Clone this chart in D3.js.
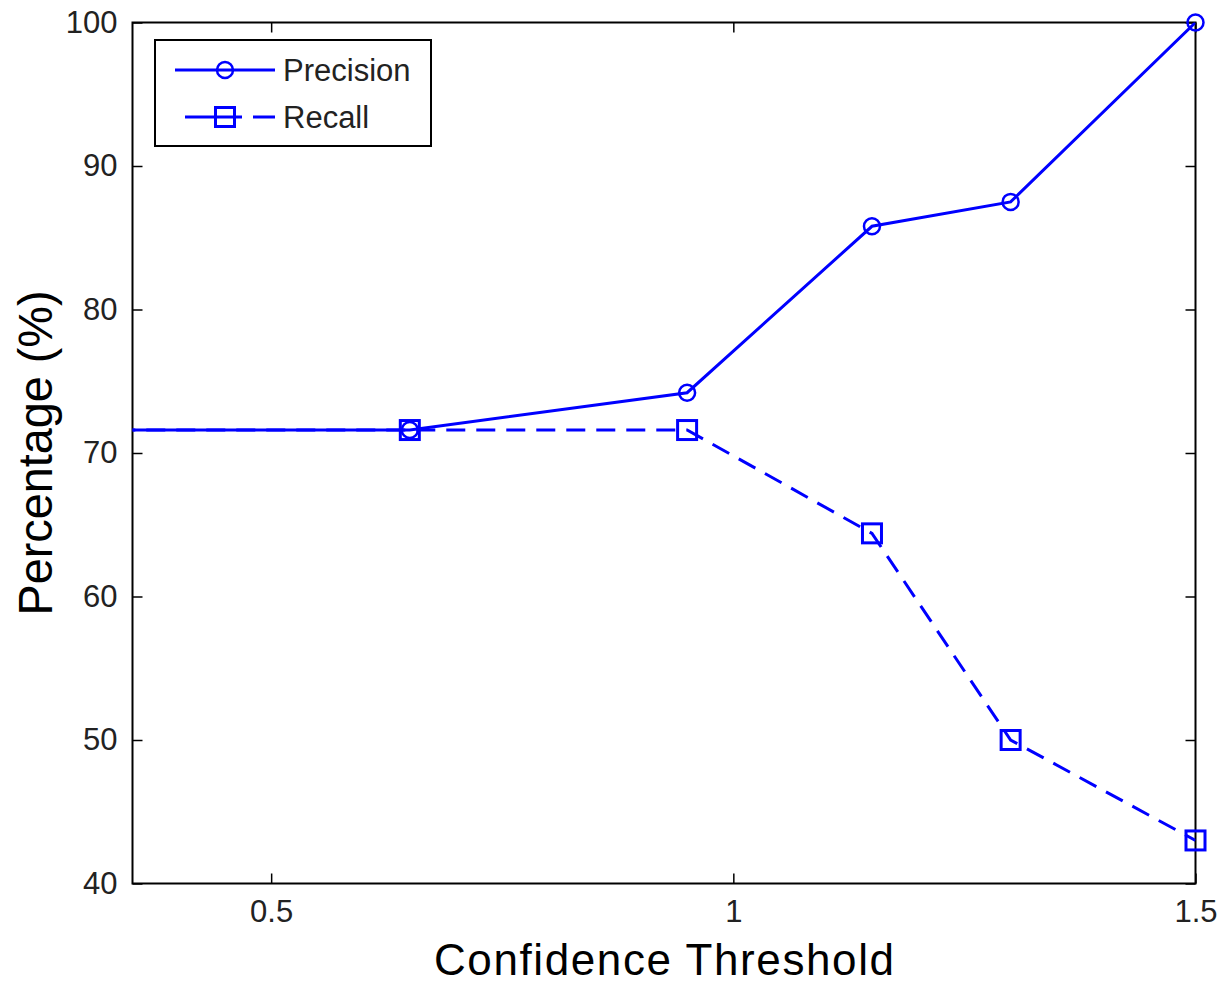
<!DOCTYPE html>
<html>
<head>
<meta charset="utf-8">
<script src="https://cdn.jsdelivr.net/npm/d3@7"></script>
<style>
  body { margin: 0; background: #fff; }
  text { font-family: "Liberation Sans", Arial, sans-serif; }
</style>
</head>
<body>
<div id="chart"></div>
<script>
// thresholds (first one lies left of the visible axis range, line is clipped)
var thresholds = [0.3, 0.65, 0.95, 1.15, 1.3, 1.5];
var precision = [71.6, 71.6, 74.2, 85.8, 87.5, 100];
var recall = [71.6, 71.6, 71.6, 64.4, 50.0, 43.0];
var xTicks = [0.5, 1, 1.5];
var yTicks = [40, 50, 60, 70, 80, 90, 100];

var W = 1218, H = 984,
    margin = {top: 22.5, right: 22.5, bottom: 100.5, left: 132.5},
    width = W - margin.left - margin.right,
    height = H - margin.top - margin.bottom;

var svg = d3.select("#chart").append("svg")
    .attr("width", W)
    .attr("height", H);

var x = d3.scaleLinear().domain([0.35, 1.5]).range([0, width]);
var y = d3.scaleLinear().domain([40, 100]).range([height, 0]);

var g = svg.append("g")
    .attr("transform", "translate(" + margin.left + "," + margin.top + ")");

svg.append("defs").append("clipPath").attr("id", "plotclip")
  .append("rect").attr("width", width).attr("height", height);

// axes: ticks inward on all four sides
var tickLen = 10;
g.append("g")
    .attr("transform", "translate(0," + height + ")")
    .call(d3.axisBottom(x).tickValues(xTicks).tickSizeInner(-tickLen).tickSizeOuter(0).tickPadding(16).tickFormat(d3.format("")));
g.append("g")
    .call(d3.axisTop(x).tickValues(xTicks).tickSizeInner(-tickLen).tickSizeOuter(0).tickFormat(""));
g.append("g")
    .call(d3.axisLeft(y).tickValues(yTicks).tickSizeInner(-tickLen).tickSizeOuter(0).tickPadding(15));
g.append("g")
    .attr("transform", "translate(" + width + ",0)")
    .call(d3.axisRight(y).tickValues(yTicks).tickSizeInner(-tickLen).tickSizeOuter(0).tickFormat(""));

g.selectAll(".domain").remove();
g.selectAll(".tick line").attr("stroke", "#000").attr("stroke-width", 1.5);
g.selectAll(".tick text").attr("font-size", 31).attr("fill", "#222");

g.append("rect")
    .attr("width", width).attr("height", height)
    .attr("fill", "none").attr("stroke", "#000").attr("stroke-width", 2);

var blue = "#0000ff";
var series = [
  {name: "Precision", values: precision, dash: null, marker: "circle"},
  {name: "Recall", values: recall, dash: "19,11", marker: "square"}
];

var line = d3.line()
    .x(function (d, i) { return x(thresholds[i]); })
    .y(function (d) { return y(d); });

function drawMarker(sel, type, cx, cy) {
  if (type === "circle") {
    sel.append("circle").attr("cx", cx).attr("cy", cy).attr("r", 8)
      .attr("fill", "none").attr("stroke", blue).attr("stroke-width", 2.5);
  } else {
    sel.append("rect").attr("x", cx - 9.5).attr("y", cy - 9.5).attr("width", 19).attr("height", 19)
      .attr("fill", "none").attr("stroke", blue).attr("stroke-width", 3);
  }
}

// draw recall first so precision sits on top
series.slice().reverse().forEach(function (s) {
  g.append("path")
      .datum(s.values)
      .attr("clip-path", "url(#plotclip)")
      .attr("d", line)
      .attr("fill", "none")
      .attr("stroke", blue)
      .attr("stroke-width", 3)
      .attr("stroke-dasharray", s.dash);
  var mg = g.append("g");
  s.values.forEach(function (v, i) {
    if (thresholds[i] < x.domain()[0]) return;
    drawMarker(mg, s.marker, x(thresholds[i]), y(v));
  });
});

// axis labels
svg.append("text")
    .attr("x", margin.left + width / 2)
    .attr("y", 975)
    .attr("text-anchor", "middle")
    .attr("font-size", 44)
    .attr("textLength", 460)
    .attr("lengthAdjust", "spacing")
    .attr("fill", "#000")
    .text("Confidence Threshold");

svg.append("text")
    .attr("transform", "translate(52," + (margin.top + y(70)) + ") rotate(-90)")
    .attr("text-anchor", "middle")
    .attr("font-size", 49)
    .attr("textLength", 325)
    .attr("lengthAdjust", "spacingAndGlyphs")
    .attr("fill", "#000")
    .text("Percentage (%)");

// legend
var lg = svg.append("g").attr("transform", "translate(155,40)");
lg.append("rect").attr("width", 276).attr("height", 106)
    .attr("fill", "#fff").attr("stroke", "#000").attr("stroke-width", 2);
series.forEach(function (s, i) {
  var ly = 30 + i * 47;
  lg.append("line").attr("x1", 20).attr("x2", 120).attr("y1", ly).attr("y2", ly)
    .attr("stroke", blue).attr("stroke-width", 3)
    .attr("stroke-dasharray", s.dash ? "0,10,57,11,22" : null);
  drawMarker(lg, s.marker, 70, ly);
  lg.append("text").attr("x", 128).attr("y", ly + 11)
    .attr("font-size", 31).attr("fill", "#222").text(s.name);
});
</script>
</body>
</html>
